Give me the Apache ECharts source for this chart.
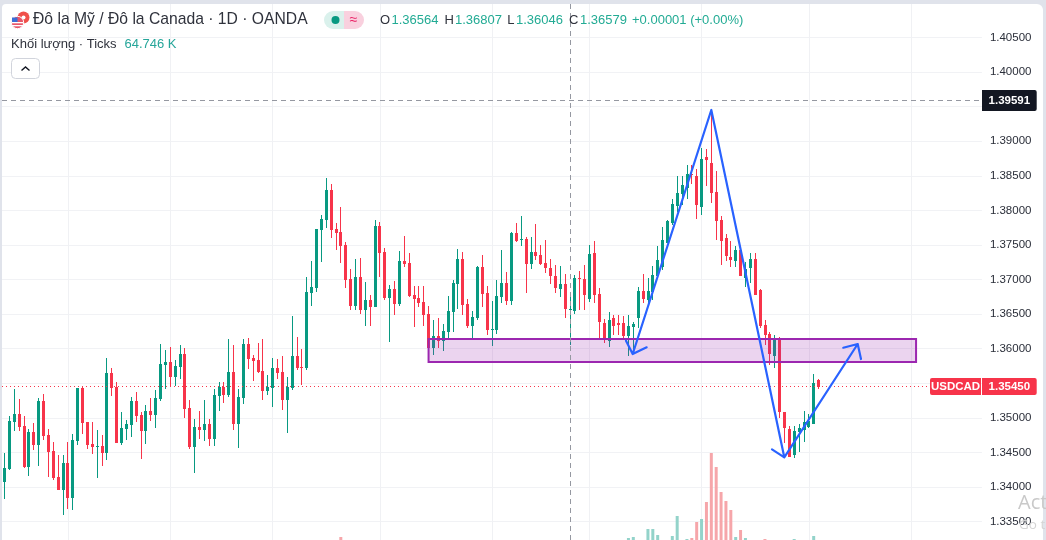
<!DOCTYPE html>
<html><head><meta charset="utf-8">
<style>
html,body{margin:0;padding:0;width:1046px;height:540px;overflow:hidden;background:#e0e3eb}
#panel{position:absolute;left:2px;top:4px;width:1041px;height:536px;background:#fff;border-top-left-radius:4px;border-top-right-radius:6px}
#chart{position:absolute;left:0;top:0;width:1046px;height:540px}
</style>
<script src="https://cdn.jsdelivr.net/npm/echarts@6/dist/echarts.min.js"></script>
</head><body><div id="panel"></div><div id="chart"></div>
<script>
const opens=[1.34069,1.34257,1.34937,1.35053,1.34879,1.34286,1.34792,1.34604,1.35241,1.34749,
1.34517,1.34141,1.33953,1.34344,1.33838,1.34662,1.35434,1.34937,1.34619,1.34575,
1.34590,1.34489,1.35646,1.35443,1.34633,1.34836,1.34894,1.35241,1.35038,1.34807,
1.35096,1.35038,1.35270,1.35762,1.35805,1.35588,1.35733,1.35921,1.35140,1.34575,
1.34865,1.34821,1.34908,1.34691,1.35313,1.35443,1.35328,1.35660,1.34908,1.35284,
1.36065,1.35863,1.35834,1.35675,1.35385,1.35429,1.35718,1.35660,1.35255,1.35429,
1.35892,1.35733,1.35718,1.36803,1.36875,1.37714,1.37859,1.38293,1.37729,1.37686,
1.37497,1.37006,1.36615,1.37035,1.36557,1.36702,1.36601,1.37772,1.37396,1.36731,
1.36861,1.36644,1.37266,1.37237,1.36774,1.36731,1.36673,1.36499,1.36007,1.36181,
1.36109,1.36239,1.36528,1.36933,1.37295,1.36644,1.36326,1.36441,1.37179,1.36803,
1.36268,1.36268,1.36745,1.36948,1.36687,1.37671,1.37570,1.37584,1.37223,1.37396,
1.37353,1.37237,1.37165,1.37049,1.36861,1.36933,1.36564,1.36543,1.37020,1.37006,
1.36716,1.37382,1.36789,1.36369,1.36109,1.36441,1.36369,1.36369,1.36181,1.36311,
1.36441,1.36832,1.36702,1.36818,1.37044,1.37179,1.37531,1.37816,1.38062,1.38235,
1.38322,1.38525,1.38496,1.38047,1.38770,1.38684,1.38264,1.37859,1.37599,1.37324,
1.37266,1.37425,1.37020,1.37165,1.37295,1.36846,1.36340,1.36210,1.35892,1.36152,
1.35082,1.34836,1.34460,1.34792,1.34821,1.34865,1.34908,1.35544];
const closes=[1.34272,1.34951,1.35053,1.34865,1.34286,1.34792,1.34604,1.35241,1.34734,1.34503,
1.34127,1.33953,1.34344,1.33838,1.34677,1.35429,1.34922,1.34604,1.34575,1.34590,
1.34489,1.35646,1.35429,1.34633,1.34850,1.34908,1.35241,1.35024,1.34807,1.35096,
1.35038,1.35284,1.35776,1.35805,1.35588,1.35747,1.35921,1.35125,1.34575,1.34865,
1.34821,1.34908,1.34691,1.35328,1.35443,1.35328,1.35660,1.34908,1.35299,1.36065,
1.35848,1.35819,1.35660,1.35385,1.35443,1.35718,1.35646,1.35255,1.35443,1.35892,
1.35718,1.35718,1.36818,1.36890,1.37729,1.37874,1.38293,1.37714,1.37671,1.37483,
1.36991,1.36615,1.37035,1.36557,1.36702,1.36601,1.37772,1.37382,1.36731,1.36861,
1.36644,1.37266,1.37223,1.36760,1.36716,1.36658,1.36485,1.36007,1.36181,1.36109,
1.36253,1.36543,1.36948,1.37295,1.36629,1.36326,1.36456,1.37179,1.36789,1.36268,
1.36282,1.36760,1.36948,1.36687,1.37671,1.37555,1.37584,1.37223,1.37396,1.37338,
1.37223,1.37165,1.37049,1.36875,1.36933,1.36572,1.36579,1.37020,1.37006,1.36774,
1.37367,1.36774,1.36384,1.36138,1.36412,1.36326,1.36340,1.36181,1.36326,1.36355,
1.36832,1.36716,1.36832,1.37063,1.37280,1.37570,1.37845,1.38091,1.38250,1.38365,
1.38525,1.38510,1.38076,1.38742,1.38727,1.38250,1.37845,1.37555,1.37338,1.37280,
1.37425,1.37049,1.37150,1.37295,1.36774,1.36326,1.36195,1.35921,1.36152,1.35082,
1.34850,1.34431,1.34807,1.34850,1.34937,1.34951,1.35501,1.35450];
const lows=[1.33823,1.34243,1.34807,1.34807,1.34272,1.34156,1.34532,1.34300,1.34677,1.34141,
1.34098,1.33953,1.33592,1.33678,1.33664,1.34604,1.34763,1.34546,1.34474,1.34127,
1.34300,1.34387,1.35313,1.34633,1.34604,1.34677,1.34720,1.34937,1.34402,1.34619,
1.34951,1.34850,1.35241,1.35414,1.35458,1.35458,1.35559,1.34995,1.34546,1.34199,
1.34691,1.34662,1.34590,1.34590,1.35096,1.35212,1.35299,1.34821,1.34561,1.35197,
1.35704,1.35530,1.35646,1.35255,1.35328,1.35154,1.35559,1.35111,1.34778,1.35400,
1.35689,1.35472,1.35689,1.36615,1.36818,1.37252,1.37743,1.37599,1.37425,1.37237,
1.36875,1.36557,1.36557,1.36499,1.36326,1.36326,1.36601,1.37035,1.36702,1.36094,
1.36485,1.36615,1.37179,1.36745,1.36311,1.36601,1.36326,1.35882,1.35906,1.36007,
1.35964,1.36152,1.36239,1.36572,1.36485,1.36297,1.36152,1.36412,1.36601,1.36195,
1.36036,1.36210,1.36658,1.36629,1.36629,1.37541,1.37483,1.36803,1.37150,1.37280,
1.37208,1.37092,1.36933,1.36803,1.36745,1.36441,1.36046,1.36499,1.36557,1.36557,
1.36673,1.36658,1.36152,1.36080,1.36022,1.36195,1.36195,1.36123,1.35892,1.35921,
1.36297,1.36658,1.36629,1.36702,1.37044,1.37136,1.37522,1.37787,1.37975,1.38076,
1.38163,1.38380,1.37874,1.37931,1.38351,1.38105,1.37570,1.37208,1.37266,1.37179,
1.37179,1.37049,1.36890,1.36948,1.36774,1.36297,1.36051,1.35762,1.35718,1.34995,
1.34633,1.34431,1.34416,1.34503,1.34648,1.34850,1.34908,1.35414];
const highs=[1.34489,1.35024,1.35414,1.35270,1.35024,1.34836,1.34922,1.35284,1.35342,1.34836,
1.34648,1.34460,1.34460,1.34648,1.34763,1.35429,1.35443,1.34937,1.34937,1.34821,
1.34749,1.35863,1.35718,1.35516,1.35082,1.34966,1.35299,1.35371,1.35082,1.35183,
1.35284,1.35400,1.36065,1.35979,1.36022,1.35834,1.36051,1.36007,1.35255,1.34980,
1.35096,1.35255,1.34980,1.35414,1.35516,1.35516,1.36138,1.36051,1.35414,1.36138,
1.36152,1.35906,1.36080,1.36138,1.35617,1.35863,1.35848,1.35892,1.35588,1.36470,
1.36167,1.35993,1.37035,1.37266,1.37729,1.37931,1.38467,1.38380,1.37816,1.38047,
1.37541,1.37150,1.37295,1.37309,1.36962,1.36774,1.37859,1.37830,1.37454,1.36919,
1.36977,1.37411,1.37628,1.37382,1.36904,1.36904,1.36904,1.36615,1.36412,1.36441,
1.36355,1.36760,1.36991,1.37440,1.37396,1.36716,1.36543,1.37194,1.37353,1.36904,
1.36687,1.36991,1.37425,1.37107,1.37686,1.37816,1.37917,1.37613,1.37613,1.37801,
1.37497,1.37570,1.37295,1.37208,1.37194,1.37078,1.36807,1.37063,1.37121,1.37208,
1.37497,1.37555,1.36875,1.36427,1.36528,1.36485,1.36485,1.36470,1.36485,1.36384,
1.36890,1.37078,1.37020,1.37194,1.37483,1.37758,1.37854,1.38163,1.38496,1.38496,
1.38655,1.38655,1.38597,1.38901,1.38886,1.39450,1.38568,1.37917,1.37657,1.37555,
1.37483,1.37483,1.37252,1.37382,1.37382,1.36861,1.36412,1.36239,1.36195,1.36167,
1.35082,1.34879,1.34879,1.34908,1.35096,1.35053,1.35631,1.35559];
// Volume above the bottom crop edge; bars that fall below the crop read as 0.
const volumes=[0,0,0,0,0,0,0,0,0,0, 0,0,0,0,0,0,0,0,0,0, 0,0,0,0,0,0,0,0,0,0,
0,0,0,0,0,0,0,0,0,0, 0,0,0,0,0,0,0,0,0,0, 0,0,0,0,0,0,0,0,0,0,
0,0,0,0,0,0,0,0,0,6, 0,0,0,0,0,0,0,0,0,0, 0,0,0,0,0,0,0,0,0,0,
0,0,0,0,0,0,0,0,0,0, 0,0,0,0,0,0,0,0,0,0, 0,0,0,0,0,0,0,0,0,0,
0,0,0,0,0,0,0,0,4,6, 0,0,22,22,10,0,0,8,48,0,
2,4,36,42,76,174,146,96,78,60, 6,20,4,0,0,0,2,0,0,0, 0,0,2,0,0,0,8,0];
const monthStarts=[13,34,55,77,100,120,143,165,186];
const crosshairBar=116, crosshairPrice=1.39591, lastPrice=1.35450;
const priceMin=1.335, priceMax=1.405, priceStep=0.005;
const zoneBars=[87,187], zonePrices=[1.361393,1.358067];
const zigzagBars=[131.74,128.87,127.5,128.87,145,159.97,157.45,159.97,175.03,172.07,175.03,175.7];
const zigzagPrices=[1.360192,1.359223,1.361147,1.359223,1.394514,1.344283,1.34544,1.344283,1.36067,1.360135,1.36067,1.3585];
const titleText='Đô la Mỹ / Đô la Canada · 1D · OANDA';
const ohlcLetters=['O','H','L','C'];
const ohlcValues=['1.36564','1.36807','1.36046','1.36579'];
const changeText='+0.00001 (+0.00%)';
const volumeTitle='Khối lượng · Ticks', volumeValue='64.746 K';
const symbolTag='USDCAD';

const slots=201;
const categories=Array.from({length:slots},(_,i)=>String(i));
const GREEN='#089981', RED='#f7344a', FONT='"Liberation Sans",Arial,sans-serif';
const candles=opens.map((o,i)=>[i,o,closes[i],lows[i],highs[i]]);
const volData=volumes.map((v,i)=>({value:v,itemStyle:{color:closes[i]>=opens[i]?'#93d3ca':'#f6a6aa'}}));
const gridL=2, gridW=979.875;
const chart=echarts.init(document.getElementById('chart'),null,{renderer:'canvas'});
const noLine={show:false};
// One-pixel wick and three-pixel body, snapped to whole pixels for crisp edges.
function drawCandle(params,api){
 const i=api.value(0),o=api.value(1),c=api.value(2),l=api.value(3),h=api.value(4);
 const cx=api.coord([i,o])[0], px=Math.round(cx-0.34);
 const yO=Math.round(api.coord([i,o])[1]), yC=Math.round(api.coord([i,c])[1]);
 const yL=Math.round(api.coord([i,l])[1]), yH=Math.round(api.coord([i,h])[1]);
 const top=Math.min(yO,yC), hgt=Math.max(Math.abs(yO-yC),1);
 const fill=c>=o?GREEN:RED;
 return {type:'group',children:[
  {type:'rect',shape:{x:px,y:yH,width:1,height:Math.max(yL-yH,1)},style:{fill}},
  {type:'rect',shape:{x:px-1,y:top,width:3,height:hgt},style:{fill}}
 ]};
}
chart.setOption({
 animation:false,
 backgroundColor:'transparent',
 grid:[
  {left:gridL,top:37.5,width:gridW,height:484},
  {left:gridL,top:4,width:gridW,height:536}
 ],
 xAxis:[
  {type:'category',gridIndex:0,data:categories,show:false},
  {type:'value',gridIndex:0,min:-0.5,max:slots-0.5,show:false},
  {type:'category',gridIndex:1,data:categories,show:false}
 ],
 yAxis:[
  {type:'value',gridIndex:0,position:'right',min:priceMin,max:priceMax,interval:priceStep,
   axisLine:noLine,axisTick:noLine,
   axisLabel:{color:'#2a2e39',fontFamily:FONT,fontSize:11.5,margin:8,formatter:v=>v.toFixed(5)},
   splitLine:{lineStyle:{color:'#f1f2f5',width:1}}},
  {type:'value',gridIndex:1,min:0,max:1072,show:false}
 ],
 series:[
  {name:'Volume',type:'bar',xAxisIndex:2,yAxisIndex:1,data:volData,barWidth:3,z:2,silent:true,
   markLine:{silent:true,symbol:'none',label:{show:false},lineStyle:{color:'#f0f1f4',width:1,type:'solid'},
    data:monthStarts.map(k=>({xAxis:k})),z:1}},
  {name:'USDCAD',type:'custom',xAxisIndex:0,yAxisIndex:0,data:candles,renderItem:drawCandle,z:3,silent:true,clip:false,
   encode:{x:0,y:[1,2,3,4]},
   markLine:{silent:true,symbol:'none',precision:5,label:{show:false},z:5,
    data:[
     {yAxis:crosshairPrice,lineStyle:{color:'#9598a1',width:1,type:[5,4]}},
     {yAxis:lastPrice,lineStyle:{color:RED,width:1,type:[1,3]}}
    ]}},
  {name:'Zone',type:'line',xAxisIndex:1,yAxisIndex:0,data:[],z:4,silent:true,
   markArea:{silent:true,z:4,itemStyle:{color:'rgba(156,39,176,0.2)',borderColor:'#9c27b0',borderWidth:2},
    data:[[{xAxis:zoneBars[0],yAxis:zonePrices[0]},{xAxis:zoneBars[1],yAxis:zonePrices[1]}]]}},
  {name:'Path',type:'line',xAxisIndex:1,yAxisIndex:0,z:6,silent:true,symbol:'none',clip:false,
   data:zigzagBars.map((k,i)=>[k,zigzagPrices[i]]),
   lineStyle:{color:'#2962ff',width:2.2,join:'round',cap:'round'}},
  {name:'Crosshair',type:'line',xAxisIndex:2,yAxisIndex:1,data:[],z:7,silent:true,
   markLine:{silent:true,symbol:'none',label:{show:false},z:7,
    lineStyle:{color:'#9598a1',width:1,type:[5,4]},data:[{xAxis:crosshairBar}]}}
 ]
});
const yOf=p=>chart.convertToPixel({yAxisIndex:0},p);
const T=(text,x,y,size,color,extra)=>({type:'text',z:20,silent:true,style:Object.assign({text,x,y,fontFamily:FONT,fontSize:size,fill:color,textVerticalAlign:'middle',verticalAlign:'middle'},extra||{})});
const TAG=(text,x,w,cy,h,fill,r)=>[
 {type:'rect',z:19,silent:true,shape:{x,y:Math.round(cy-h/2),width:w,height:h,r},style:{fill}},
 T(text,x+w/2,Math.round(cy-h/2)+h/2,11.5,'#fff',{align:'center',textAlign:'center',fontWeight:'bold'})
];
const ohlcX=[380,444.5,507.3,569], ohlcValX=[391.5,455,516,580];
const g=[
 // flag badge
 {type:'circle',z:18,silent:true,shape:{cx:23.5,cy:17.5,r:6},style:{fill:'#f0504a'}},
 {type:'circle',z:18,silent:true,shape:{cx:23.5,cy:17.5,r:2},style:{fill:'#fff'}},
 {type:'circle',z:18,silent:true,shape:{cx:17.5,cy:22.5,r:6.2},style:{fill:'#e8566a',stroke:'#fff',lineWidth:1}},
 {type:'rect',z:18,silent:true,shape:{x:11.5,y:22,width:12,height:1.3},style:{fill:'#fff'}},
 {type:'rect',z:18,silent:true,shape:{x:12,y:25,width:11,height:1.3},style:{fill:'#fff'}},
 {type:'rect',z:18,silent:true,shape:{x:12,y:17.5,width:5.5,height:4.5},style:{fill:'#3c6ed6'}},
 T(titleText,33,20,15.7,'#2f323c'),
 // status pills
 {type:'rect',z:18,silent:true,shape:{x:324,y:11,width:20,height:18,r:[9,0,0,9]},style:{fill:'#daf1ec'}},
 {type:'rect',z:18,silent:true,shape:{x:344,y:11,width:20,height:18,r:[0,9,9,0]},style:{fill:'#f9d0de'}},
 {type:'circle',z:19,silent:true,shape:{cx:335.5,cy:20,r:4},style:{fill:GREEN}},
 T('≈',353.5,20,14,'#e91e63',{align:'center',textAlign:'center'}),
 T(volumeTitle,11,44,13,'#2f323c'),
 T(volumeValue,124.5,44,13,'#26a69a'),
 // collapse button
 {type:'rect',z:18,silent:true,shape:{x:11.5,y:58.5,width:28,height:20,r:4},style:{fill:'#fff',stroke:'#d1d4dc',lineWidth:1}},
 {type:'polyline',z:19,silent:true,shape:{points:[[21.5,70.5],[25.5,67],[29.5,70.5]]},style:{stroke:'#131722',lineWidth:1.4,fill:'none'}},
 T(changeText,632,20,13,'#22ab94'),
 ...TAG(crosshairPrice.toFixed(5),982,54.7,yOf(crosshairPrice),21,'#131722',[0,2,2,0]),
 ...TAG(lastPrice.toFixed(5),982,54.7,yOf(lastPrice),17,RED,[0,2,2,0]),
 ...TAG(symbolTag,930,51,yOf(lastPrice),17,RED,[2,0,0,2]),
 T('Act',1018,503,20,'#c9c9c9',{fontFamily:'"Open Sans",sans-serif'}),
 T('Go t',1019,525,13.5,'#d4d4d4',{fontFamily:'"Open Sans",sans-serif'})
];
ohlcLetters.forEach((l,i)=>{g.push(T(l,ohlcX[i],20,13,'#2f323c'));g.push(T(ohlcValues[i],ohlcValX[i],20,13,'#22ab94'));});
chart.setOption({graphic:g});
</script></body></html>
